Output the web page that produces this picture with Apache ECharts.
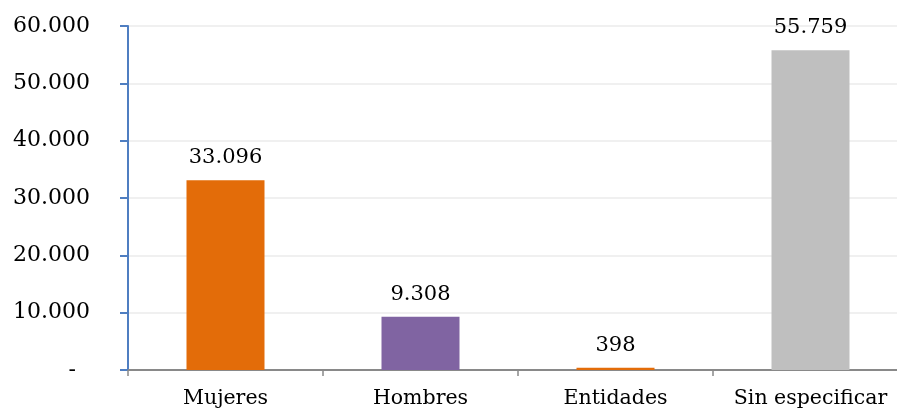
<!DOCTYPE html>
<html>
<head>
<meta charset="utf-8">
<script src="https://cdn.jsdelivr.net/npm/echarts@6/dist/echarts.min.js"></script>
<style>
html,body{margin:0;padding:0;background:#fff;}
#c{width:897px;height:410px;}
</style>
</head>
<body>
<div id="c"></div>
<script>
const categories = ['Mujeres', 'Hombres', 'Entidades', 'Sin especificar'];
const values = [33096, 9308, 398, 55759];
const barColors = ['#E36C09', '#8064A2', '#E36C09', '#BFBFBF'];
const yTicks = [0, 10000, 20000, 30000, 40000, 50000, 60000];

function fmt(v) {
  if (v === 0) return '-  ';
  return String(v).replace(/\B(?=(\d{3})+(?!\d))/g, '.');
}

const FONT = 'DejaVu Serif';
const chart = echarts.init(document.getElementById('c'), null, {renderer: 'canvas'});
chart.setOption({
  animation: false,
  backgroundColor: '#fff',
  grid: {left: 128, width: 780, top: 26, bottom: 40, containLabel: false, outerBoundsMode: 'none'},
  xAxis: {
    type: 'category',
    data: categories,
    axisLine: {show: true, lineStyle: {color: '#898989', width: 2}},
    axisTick: {show: true, alignWithLabel: false, length: 6, lineStyle: {color: '#898989', width: 1.5}},
    axisLabel: {color: '#000', fontFamily: FONT, fontSize: 20.5, margin: 18, interval: 0}
  },
  yAxis: {
    type: 'value',
    min: yTicks[0],
    max: yTicks[yTicks.length - 1],
    interval: 10000,
    axisLine: {show: true, lineStyle: {color: '#4F7EC1', width: 2}},
    axisTick: {show: true, length: 8, lineStyle: {color: '#4F7EC1', width: 2}},
    splitLine: {show: true, lineStyle: {color: '#EBEBEB', width: 1.5}},
    axisLabel: {color: '#000', fontFamily: FONT, fontSize: 22, margin: 38, formatter: fmt}
  },
  series: [{
    type: 'bar',
    barWidth: 78,
    data: values.map((v, i) => ({value: v, itemStyle: {color: barColors[i]}})),
    label: {
      show: true,
      position: 'top',
      distance: 12,
      color: '#000',
      fontFamily: FONT,
      fontSize: 21,
      formatter: p => fmt(p.value)
    }
  }]
});
</script>
</body>
</html>
